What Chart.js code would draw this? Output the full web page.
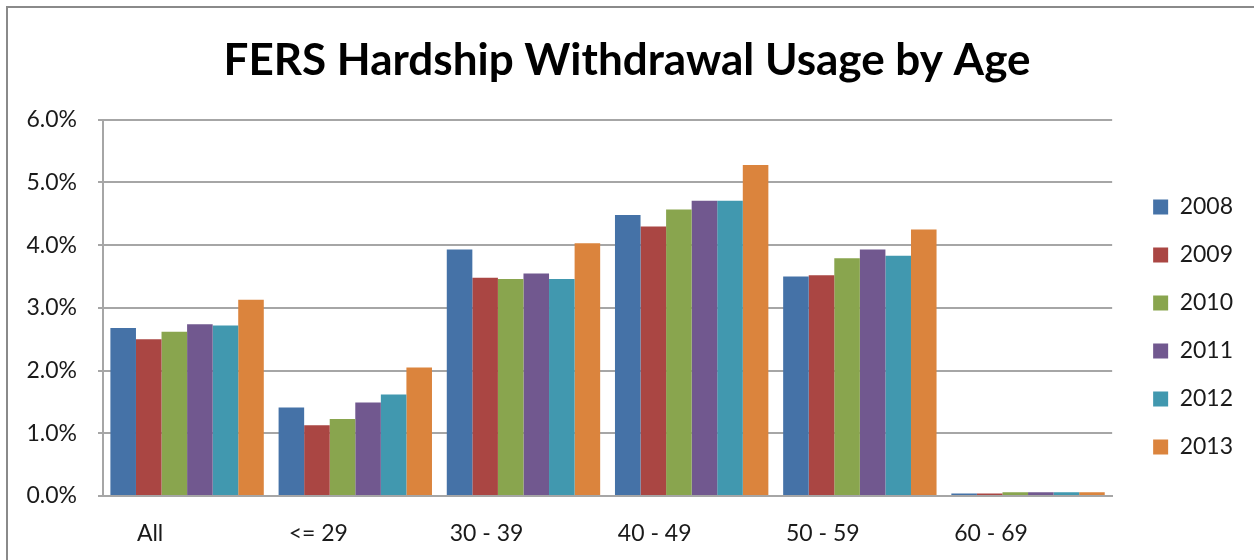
<!DOCTYPE html>
<html>
<head>
<meta charset="utf-8">
<script src="https://cdn.jsdelivr.net/npm/chart.js@4/dist/chart.umd.min.js"></script>
<style>
	html, body { margin: 0; padding: 0; background: #ffffff; }
	#frame {
		position: absolute;
		left: 6px;
		top: 6px;
		width: 1300px;
		height: 600px;
		border-left: 2px solid #8a8a8a;
		border-top: 2px solid #8a8a8a;
	}
	#wrap { position: absolute; left: 0; top: 0; width: 1254px; height: 560px; }
</style>
</head>
<body>
<div id="frame"></div>
<div id="wrap"><canvas id="chart"></canvas></div>
<script>
// categories and series (share of participants, %)
const age_groups = ['All', '<= 29', '30 - 39', '40 - 49', '50 - 59', '60 - 69'];
const years = ['2008', '2009', '2010', '2011', '2012', '2013'];
const usage_2008 = [2.68, 1.41, 3.93, 4.48, 3.50, 0.04];
const usage_2009 = [2.50, 1.13, 3.48, 4.30, 3.52, 0.04];
const usage_2010 = [2.62, 1.23, 3.46, 4.57, 3.79, 0.06];
const usage_2011 = [2.74, 1.49, 3.55, 4.71, 3.93, 0.06];
const usage_2012 = [2.72, 1.62, 3.46, 4.71, 3.83, 0.06];
const usage_2013 = [3.13, 2.05, 4.03, 5.28, 4.25, 0.06];
const y_ticks = [0, 1, 2, 3, 4, 5, 6];

const series = [usage_2008, usage_2009, usage_2010, usage_2011, usage_2012, usage_2013];
const colors = ['#4572a7', '#aa4643', '#89a54e', '#71588f', '#4198af', '#db843d'];

const font_family = 'Lato, "Open Sans", sans-serif';
const text_color = '#1a1a1a';
const grid_color = '#a6a6a6';

const datasets = [];
for (let i = 0; i < years.length; i++) {
	datasets.push({
		label: years[i],
		data: series[i],
		backgroundColor: colors[i],
		borderWidth: 0,
		categoryPercentage: 0.912,
		barPercentage: 1.0,
	});
}

const config_bar = {
	type: 'bar',
	data: {
		labels: age_groups,
		datasets: datasets,
	},
	options: {
		responsive: true,
		maintainAspectRatio: false,
		animation: false,
		layout: {
			padding: { left: 11, right: 11, top: 0, bottom: 0 },
		},
		plugins: {
			title: {
				display: true,
				text: 'FERS Hardship Withdrawal Usage by Age',
				color: '#000000',
				font: { family: font_family, size: 44, weight: 'bold' },
				padding: { top: 34, bottom: 33 },
			},
			legend: {
				position: 'right',
				// empty title only pushes the items down, as in the picture
				title: {
					display: true,
					text: ' ',
					font: { family: font_family, size: 10 },
					padding: { top: 41, bottom: 41 },
				},
				labels: {
					color: text_color,
					font: { family: font_family, size: 23 },
					boxWidth: 15,
					boxHeight: 15,
					padding: 25,
				},
			},
			tooltip: { enabled: false },
		},
		scales: {
			x: {
				grid: { display: false },
				border: { color: grid_color, width: 2 },
				ticks: {
					color: text_color,
					font: { family: font_family, size: 23 },
					labelOffset: -37,
					padding: 16,
					maxRotation: 0,
				},
				afterFit: (scale) => { scale.height = 64; },
			},
			y: {
				min: 0,
				max: 6,
				afterBuildTicks: (scale) => {
					scale.ticks = y_ticks.map((v) => ({ value: v }));
				},
				grid: {
					color: grid_color,
					lineWidth: 2,
					tickLength: 5,
				},
				border: { color: grid_color, width: 2 },
				ticks: {
					color: text_color,
					font: { family: font_family, size: 23 },
					padding: 21,
					callback: (value) => value.toFixed(1) + '%',
				},
				afterFit: (scale) => { scale.width = 92; },
			},
			gap: {
				position: 'right',
				display: true,
				grid: { display: false },
				border: { display: false },
				ticks: { display: false },
				afterFit: (scale) => { scale.width = 16; },
			},
		},
	},
};

const myBar = new Chart(
	document.getElementById('chart'),
	config_bar
);
</script>
</body>
</html>
